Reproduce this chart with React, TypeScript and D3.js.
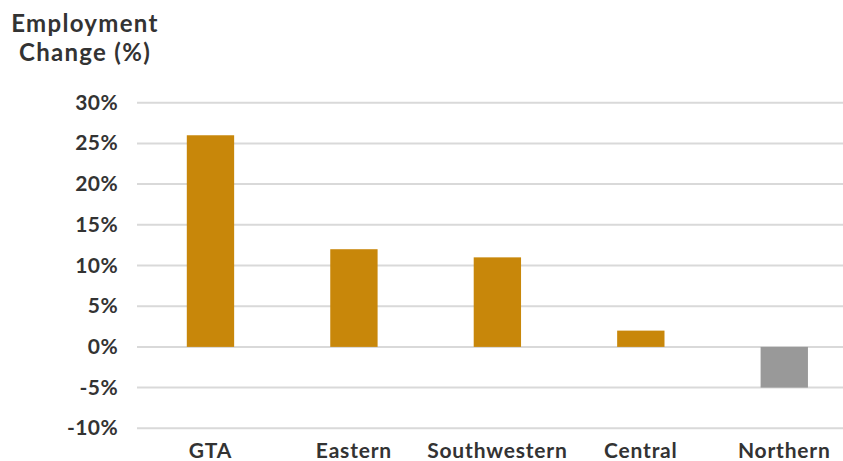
import React from "react";
import * as d3 from "d3";

const categories = ["GTA", "Eastern", "Southwestern", "Central", "Northern"];
const values = [26, 12, 11, 2, -5];
const yTicks = [-10, -5, 0, 5, 10, 15, 20, 25, 30];
const titleLines = ["Employment", "Change (%)"];

const W = 843;
const H = 461;
const FONT = "Lato, 'Open Sans', sans-serif";

export default function App() {
  const x = d3.scaleBand<string>().domain(categories).range([138.75, 856]).paddingInner(0.67).paddingOuter(0.335);
  const y = d3.scaleLinear().domain([-10, 30]).range([428.3, 102.7]);
  return (
    <svg width={W} height={H} style={{ position: "absolute", left: 0, top: 0, background: "#fff" }}>
      {titleLines.map((t, i) => (
        <text key={t} x={85} y={32 + i * 29} textAnchor="middle" fontFamily={FONT} fontWeight={700} fontSize={24} letterSpacing={1.3} fill="#333">
          {t}
        </text>
      ))}
      {yTicks.map((t) => (
        <g key={t}>
          <line x1={137} x2={W} y1={y(t)} y2={y(t)} stroke="#d9d9d9" strokeWidth={2} />
          <text x={118} y={y(t) + 7} textAnchor="end" fontFamily={FONT} fontWeight={700} fontSize={21} letterSpacing={0.4} fill="#333">
            {t + "%"}
          </text>
        </g>
      ))}
      {categories.map((c, i) => {
        const v = values[i];
        return (
          <rect key={c} x={x(c)} width={x.bandwidth()} y={y(Math.max(0, v))} height={Math.abs(y(v) - y(0))} fill={v < 0 ? "#999999" : "#C8870A"} />
        );
      })}
      {categories.map((c) => (
        <text key={c} x={(x(c) as number) + x.bandwidth() / 2} y={458} textAnchor="middle" fontFamily={FONT} fontWeight={700} fontSize={21} letterSpacing={0.8} fill="#333">
          {c}
        </text>
      ))}
    </svg>
  );
}
